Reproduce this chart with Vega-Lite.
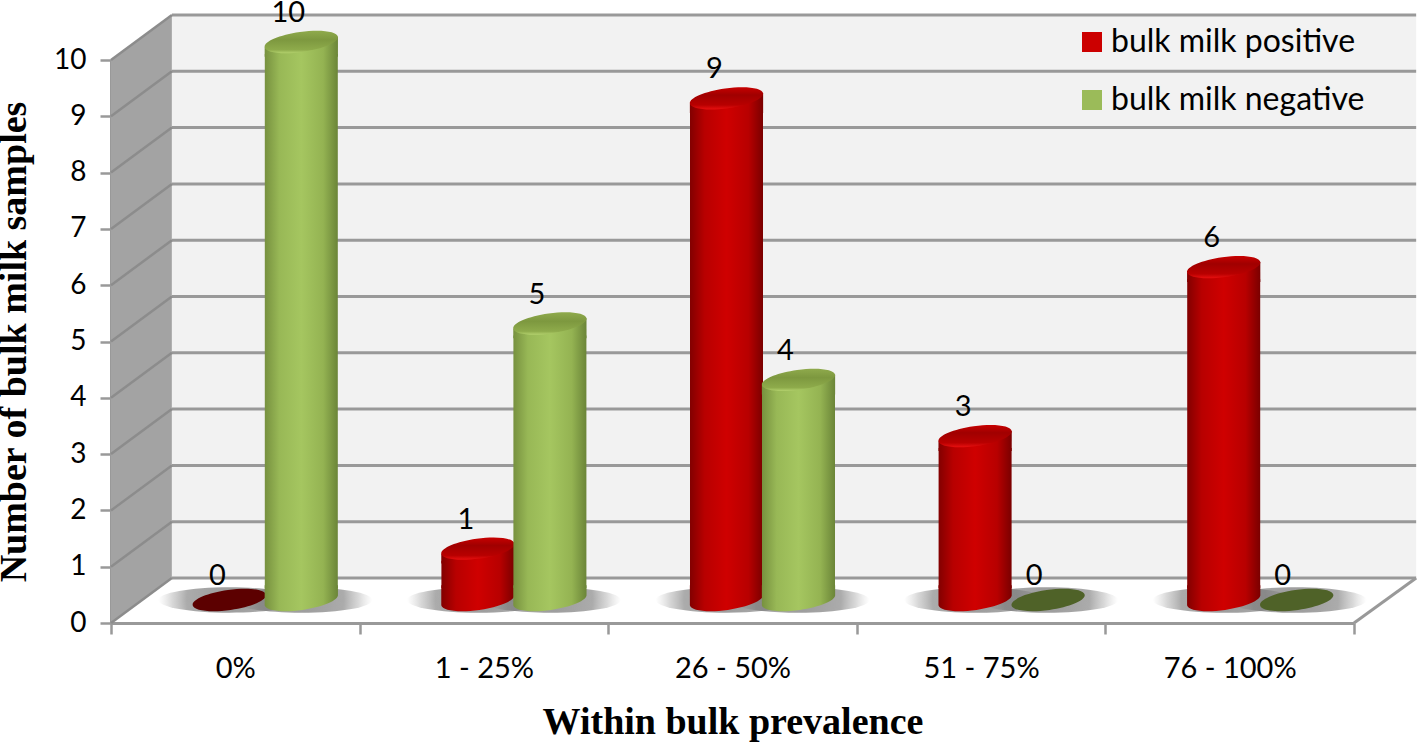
{
"$schema":"https://vega.github.io/schema/vega-lite/v6.json",
"autosize":"none","width":1243,"height":563,
"padding":{"left":111,"top":60,"right":64,"bottom":119},
"background":"white",
"config":{"view":{"stroke":null},"font":"Lato"},
"datasets":{
"counts":[
{"category":"0%","series":"bulk milk positive","count":0},
{"category":"0%","series":"bulk milk negative","count":10},
{"category":"1 - 25%","series":"bulk milk positive","count":1},
{"category":"1 - 25%","series":"bulk milk negative","count":5},
{"category":"26 - 50%","series":"bulk milk positive","count":9},
{"category":"26 - 50%","series":"bulk milk negative","count":4},
{"category":"51 - 75%","series":"bulk milk positive","count":3},
{"category":"51 - 75%","series":"bulk milk negative","count":0},
{"category":"76 - 100%","series":"bulk milk positive","count":6},
{"category":"76 - 100%","series":"bulk milk negative","count":0}],
"levels":[{"v":0},{"v":1},{"v":2},{"v":3},{"v":4},{"v":5},{"v":6},{"v":7},{"v":8},{"v":9},{"v":10}],
"side":[{"d":0,"lo":0,"hi":10},{"d":0.245,"lo":0.8,"hi":10.8}]
},
"resolve":{"scale":{"x":"independent"}},
"layer":[
{"layer":[
{"data":{"name":"side"},"mark":{"type":"area","color":"#a3a3a3","clip":false},
 "encoding":{"x":{"field":"d","type":"quantitative","axis":null,"scale":{"domain":[0,5],"nice":false}},
 "y":{"field":"lo","type":"quantitative","scale":{"domain":[0,10],"nice":false},
  "axis":{"values":[0,1,2,3,4,5,6,7,8,9,10],"format":"d","grid":false,"domainColor":"#999999","domainWidth":3,"tickColor":"#999999","tickWidth":2.5,"tickSize":11,"labelFontSize":28,"labelColor":"#000000","labelPadding":14,"labelFont":"Lato","title":"Number of bulk milk samples","titleFont":"Liberation Serif","titleFontWeight":"bold","titleFontSize":38,"titleColor":"#000000","titlePadding":20,"labelFlush":false,"labelOverlap":false}},
 "y2":{"field":"hi"}}},
{"data":{"values":[{"a":1}]},"mark":{"type":"rect","color":"#f2f2f2"},
 "encoding":{"x":{"datum":0.245,"type":"quantitative"},"x2":{"datum":5.25},"y":{"datum":0.8,"type":"quantitative"},"y2":{"datum":10.8}}},
{"data":{"name":"levels"},"mark":{"type":"rule","color":"#999999","strokeWidth":3,"yOffset":-45},
 "encoding":{"x":{"datum":0.245,"type":"quantitative"},"x2":{"datum":5.25},"y":{"field":"v","type":"quantitative"}}},
{"data":{"name":"levels"},"mark":{"type":"rule","color":"#8c8c8c","strokeWidth":2.5,"y2Offset":-45},
 "encoding":{"x":{"datum":0,"type":"quantitative"},"x2":{"datum":0.245},"y":{"field":"v","type":"quantitative"},"y2":{"field":"v"}}},
{"data":{"values":[{"a":1}]},"mark":{"type":"rule","color":"#999999","strokeWidth":3,"y2Offset":-45},
 "encoding":{"x":{"datum":5,"type":"quantitative"},"x2":{"datum":5.25},"y":{"datum":0,"type":"quantitative"},"y2":{"datum":0}}}
]},
{"data":{"name":"counts"},
"layer":[
{"mark":{"type":"point","filled":true,"opacity":0,"size":1},
 "encoding":{"x":{"field":"category","type":"nominal","sort":null,"scale":{"paddingInner":0,"paddingOuter":0},
   "axis":{"orient":"bottom","title":"Within bulk prevalence","titleFont":"Liberation Serif","titleFontWeight":"bold","titleFontSize":38,"titleColor":"#000000","titlePadding":20,"labelAngle":0,"labelFontSize":29,"labelColor":"#000000","labelPadding":20,"labelFont":"Lato","tickBand":"extent","tickColor":"#999999","tickWidth":2.5,"tickSize":11,"domainColor":"#999999","domainWidth":3}},
  "y":{"field":"count","type":"quantitative"},
  "color":{"field":"series","type":"nominal","scale":{"domain":["bulk milk positive","bulk milk negative"],"range":["#cc0000","#9bbb59"]},
   "legend":{"title":null,"orient":"none","legendX":965,"legendY":-34,"symbolType":"square","symbolSize":400,"symbolOpacity":1,"labelFontSize":32,"labelFont":"Lato","labelColor":"#000000","labelLimit":320,"rowPadding":26,"labelOffset":3,"encode":{"symbols":{"update":{"opacity":{"value":1}}}}}}}},

{"transform":[{"filter":"datum.series==='bulk milk positive'"}],
 "mark":{"type":"point","filled":true,"opacity":1,"size":20164,"xOffset":-6,"yOffset":-23,"shape":"M-1,0C-1,-0.1 -0.552,-0.18 0,-0.18C0.552,-0.18 1,-0.1 1,0C1,0.1 0.552,0.18 0,0.18C-0.552,0.18 -1,0.1 -1,0Z",
  "color":{"gradient":"radial","x1":0.5,"y1":0.5,"r1":0,"x2":0.5,"y2":0.5,"r2":0.5,"stops":[{"offset":0,"color":"rgba(110,110,110,0.7)"},{"offset":0.6,"color":"rgba(120,120,120,0.62)"},{"offset":0.8,"color":"rgba(140,140,140,0.35)"},{"offset":1,"color":"rgba(170,170,170,0)"}]}},
 "encoding":{"x":{"field":"category","sort":null},"y":{"datum":0,"type":"quantitative"}}},
{"transform":[{"filter":"datum.series==='bulk milk negative'"}],
 "mark":{"type":"point","filled":true,"opacity":1,"size":20164,"xOffset":66,"yOffset":-23,"shape":"M-1,0C-1,-0.1 -0.552,-0.18 0,-0.18C0.552,-0.18 1,-0.1 1,0C1,0.1 0.552,0.18 0,0.18C-0.552,0.18 -1,0.1 -1,0Z",
  "color":{"gradient":"radial","x1":0.5,"y1":0.5,"r1":0,"x2":0.5,"y2":0.5,"r2":0.5,"stops":[{"offset":0,"color":"rgba(110,110,110,0.7)"},{"offset":0.6,"color":"rgba(120,120,120,0.62)"},{"offset":0.8,"color":"rgba(140,140,140,0.35)"},{"offset":1,"color":"rgba(170,170,170,0)"}]}},
 "encoding":{"x":{"field":"category","sort":null},"y":{"datum":0,"type":"quantitative"}}},

{"transform":[{"filter":"datum.series==='bulk milk positive' && datum.count===0"}],
 "mark":{"type":"point","filled":true,"opacity":1,"size":5476,"xOffset":-6,"yOffset":-23,"color":"#5c0000","shape":"M0.99,-0.139C1.011,0.009 0.585,0.19 0.038,0.267C-0.509,0.344 -0.969,0.287 -0.99,0.139C-1.011,-0.009 -0.585,-0.19 -0.038,-0.267C0.509,-0.344 0.969,-0.287 0.99,-0.139Z"},
 "encoding":{"x":{"field":"category","sort":null},"y":{"field":"count","type":"quantitative"}}},
{"transform":[{"filter":"datum.series==='bulk milk negative' && datum.count===0"}],
 "mark":{"type":"point","filled":true,"opacity":1,"size":5476,"xOffset":67,"yOffset":-23,"color":"#4f6228","shape":"M0.99,-0.139C1.011,0.009 0.585,0.19 0.038,0.267C-0.509,0.344 -0.969,0.287 -0.99,0.139C-1.011,-0.009 -0.585,-0.19 -0.038,-0.267C0.509,-0.344 0.969,-0.287 0.99,-0.139Z"},
 "encoding":{"x":{"field":"category","sort":null},"y":{"field":"count","type":"quantitative"}}},

{"transform":[{"filter":"datum.series==='bulk milk positive' && datum.count>0"}],
 "layer":[
 {"mark":{"type":"point","filled":true,"opacity":1,"size":5476,"xOffset":-6,"yOffset":-23,"shape":"M0.99,-0.4L0.99,-0.139C1.011,0.009 0.585,0.19 0.038,0.267C-0.509,0.344 -0.969,0.287 -0.99,0.139L-0.99,-0.4Z",
   "color":{"gradient":"linear","x1":0,"x2":1,"y1":0,"y2":0,"stops":[{"offset":0,"color":"#820000"},{"offset":0.2,"color":"#b80000"},{"offset":0.5,"color":"#cf0000"},{"offset":0.8,"color":"#b80000"},{"offset":1,"color":"#7a0000"}]}},
  "encoding":{"x":{"field":"category","sort":null},"y":{"datum":0,"type":"quantitative"}}},
 {"mark":{"type":"bar","width":73,"xOffset":-6,"yOffset":-6,"y2Offset":-35,
   "color":{"gradient":"linear","x1":0,"x2":1,"y1":0,"y2":0,"stops":[{"offset":0,"color":"#820000"},{"offset":0.2,"color":"#b80000"},{"offset":0.5,"color":"#cf0000"},{"offset":0.8,"color":"#b80000"},{"offset":1,"color":"#7a0000"}]}},
  "encoding":{"x":{"field":"category","sort":null},"y":{"field":"count","type":"quantitative","stack":null},"y2":{"datum":0}}},
 {"mark":{"type":"point","filled":true,"opacity":1,"size":5476,"xOffset":-6,"yOffset":-18,"shape":"M-0.99,0.139L0.99,-0.139L0.99,0.4L-0.99,0.4Z",
   "color":{"gradient":"linear","x1":0,"x2":1,"y1":0,"y2":0,"stops":[{"offset":0,"color":"#820000"},{"offset":0.2,"color":"#b80000"},{"offset":0.5,"color":"#cf0000"},{"offset":0.8,"color":"#b80000"},{"offset":1,"color":"#7a0000"}]}},
  "encoding":{"x":{"field":"category","sort":null},"y":{"field":"count","type":"quantitative"}}},
 {"mark":{"type":"point","filled":true,"opacity":1,"size":5476,"xOffset":-6,"yOffset":-18,"shape":"M0.99,-0.139C1.011,0.009 0.585,0.19 0.038,0.267C-0.509,0.344 -0.969,0.287 -0.99,0.139C-1.011,-0.009 -0.585,-0.19 -0.038,-0.267C0.509,-0.344 0.969,-0.287 0.99,-0.139Z",
   "color":{"gradient":"linear","x1":0,"x2":0,"y1":0,"y2":1,"stops":[{"offset":0,"color":"#c80000"},{"offset":0.35,"color":"#a00000"},{"offset":0.8,"color":"#b80000"},{"offset":1,"color":"#e81010"}]}},
  "encoding":{"x":{"field":"category","sort":null},"y":{"field":"count","type":"quantitative"}}}
 ]},
{"transform":[{"filter":"datum.series==='bulk milk negative' && datum.count>0"}],
 "layer":[
 {"mark":{"type":"point","filled":true,"opacity":1,"size":5476,"xOffset":66,"yOffset":-23,"shape":"M0.99,-0.4L0.99,-0.139C1.011,0.009 0.585,0.19 0.038,0.267C-0.509,0.344 -0.969,0.287 -0.99,0.139L-0.99,-0.4Z",
   "color":{"gradient":"linear","x1":0,"x2":1,"y1":0,"y2":0,"stops":[{"offset":0,"color":"#77913f"},{"offset":0.2,"color":"#98b856"},{"offset":0.5,"color":"#a5c660"},{"offset":0.8,"color":"#94b352"},{"offset":1,"color":"#6b8538"}]}},
  "encoding":{"x":{"field":"category","sort":null},"y":{"datum":0,"type":"quantitative"}}},
 {"mark":{"type":"bar","width":73,"xOffset":66,"yOffset":-6,"y2Offset":-35,
   "color":{"gradient":"linear","x1":0,"x2":1,"y1":0,"y2":0,"stops":[{"offset":0,"color":"#77913f"},{"offset":0.2,"color":"#98b856"},{"offset":0.5,"color":"#a5c660"},{"offset":0.8,"color":"#94b352"},{"offset":1,"color":"#6b8538"}]}},
  "encoding":{"x":{"field":"category","sort":null},"y":{"field":"count","type":"quantitative","stack":null},"y2":{"datum":0}}},
 {"mark":{"type":"point","filled":true,"opacity":1,"size":5476,"xOffset":66,"yOffset":-18,"shape":"M-0.99,0.139L0.99,-0.139L0.99,0.4L-0.99,0.4Z",
   "color":{"gradient":"linear","x1":0,"x2":1,"y1":0,"y2":0,"stops":[{"offset":0,"color":"#77913f"},{"offset":0.2,"color":"#98b856"},{"offset":0.5,"color":"#a5c660"},{"offset":0.8,"color":"#94b352"},{"offset":1,"color":"#6b8538"}]}},
  "encoding":{"x":{"field":"category","sort":null},"y":{"field":"count","type":"quantitative"}}},
 {"mark":{"type":"point","filled":true,"opacity":1,"size":5476,"xOffset":66,"yOffset":-18,"shape":"M0.99,-0.139C1.011,0.009 0.585,0.19 0.038,0.267C-0.509,0.344 -0.969,0.287 -0.99,0.139C-1.011,-0.009 -0.585,-0.19 -0.038,-0.267C0.509,-0.344 0.969,-0.287 0.99,-0.139Z",
   "color":{"gradient":"linear","x1":0,"x2":0,"y1":0,"y2":1,"stops":[{"offset":0,"color":"#8faa4c"},{"offset":0.4,"color":"#7d983f"},{"offset":0.85,"color":"#8eab4b"},{"offset":1,"color":"#b2d06c"}]}},
  "encoding":{"x":{"field":"category","sort":null},"y":{"field":"count","type":"quantitative"}}}
 ]},

{"transform":[{"filter":"datum.series==='bulk milk positive'"}],
 "mark":{"type":"text","fontSize":29,"font":"Lato","color":"#000000","baseline":"alphabetic","xOffset":-18,"yOffset":-38},
 "encoding":{"x":{"field":"category","sort":null},"y":{"field":"count","type":"quantitative"},"text":{"field":"count","type":"quantitative"}}},
{"transform":[{"filter":"datum.series==='bulk milk negative'"}],
 "mark":{"type":"text","fontSize":29,"font":"Lato","color":"#000000","baseline":"alphabetic","xOffset":53,"yOffset":-38},
 "encoding":{"x":{"field":"category","sort":null},"y":{"field":"count","type":"quantitative"},"text":{"field":"count","type":"quantitative"}}}
]}
]
}
